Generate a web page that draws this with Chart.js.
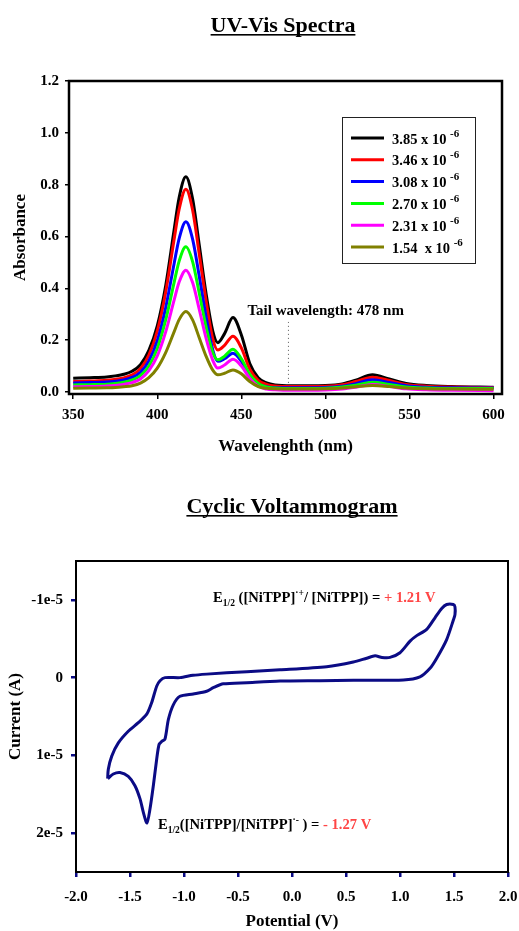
<!DOCTYPE html>
<html>
<head>
<meta charset="utf-8">
<title>UV-Vis Spectra / Cyclic Voltammogram</title>
<script src="https://cdn.jsdelivr.net/npm/chart.js@4.4.1/dist/chart.umd.min.js"></script>
<style>
  html, body { margin: 0; padding: 0; background: #fff; }
  #uvBox { position: relative; width: 519px; height: 470px; }
  #cvBox { position: relative; width: 519px; height: 461px; }
</style>
</head>
<body>
<div id="uvBox"><canvas id="uvChart"></canvas></div>
<div id="cvBox"><canvas id="cvChart"></canvas></div>
<script>
// ─── UV-Vis data ────────────────────────────────────────────────────────────
const WAVELENGTH = [350, 360, 370, 375, 380, 385, 390, 395, 400, 405, 410, 413, 417, 421, 425, 429, 433, 436,
                    440, 445, 450, 455, 460, 465, 470, 480, 490, 500, 510, 518, 528, 538, 548, 560, 575, 600];

const ABS_385 = [0.053, 0.055, 0.058, 0.062, 0.068, 0.080, 0.105, 0.160, 0.255, 0.410, 0.625, 0.750, 0.830, 0.745, 0.565, 0.380, 0.235, 0.190,
                 0.225, 0.287, 0.220, 0.110, 0.055, 0.035, 0.027, 0.024, 0.024, 0.025, 0.031, 0.045, 0.066, 0.050, 0.033, 0.025, 0.021, 0.018];
const ABS_346 = [0.040, 0.042, 0.045, 0.049, 0.054, 0.066, 0.090, 0.142, 0.235, 0.385, 0.588, 0.705, 0.782, 0.702, 0.530, 0.352, 0.205, 0.162,
                 0.180, 0.215, 0.170, 0.088, 0.045, 0.029, 0.023, 0.021, 0.021, 0.022, 0.028, 0.040, 0.057, 0.044, 0.029, 0.022, 0.019, 0.017];
const ABS_308 = [0.034, 0.036, 0.038, 0.041, 0.046, 0.056, 0.076, 0.120, 0.198, 0.325, 0.495, 0.592, 0.657, 0.590, 0.445, 0.292, 0.162, 0.118,
                 0.128, 0.149, 0.118, 0.062, 0.031, 0.020, 0.016, 0.016, 0.016, 0.017, 0.022, 0.032, 0.047, 0.036, 0.024, 0.018, 0.016, 0.015];
const ABS_270 = [0.027, 0.028, 0.030, 0.033, 0.037, 0.046, 0.063, 0.100, 0.168, 0.278, 0.422, 0.505, 0.560, 0.503, 0.380, 0.252, 0.152, 0.124,
                 0.138, 0.165, 0.128, 0.068, 0.033, 0.019, 0.015, 0.013, 0.013, 0.014, 0.019, 0.026, 0.037, 0.029, 0.019, 0.015, 0.013, 0.013];
const ABS_231 = [0.020, 0.021, 0.023, 0.025, 0.029, 0.036, 0.050, 0.082, 0.139, 0.232, 0.354, 0.424, 0.470, 0.422, 0.318, 0.208, 0.122, 0.092,
                 0.104, 0.126, 0.100, 0.052, 0.022, 0.011, 0.008, 0.006, 0.006, 0.007, 0.011, 0.018, 0.029, 0.021, 0.012, 0.008, 0.006, 0.005];
const ABS_154 = [0.014, 0.015, 0.016, 0.017, 0.020, 0.024, 0.034, 0.055, 0.092, 0.152, 0.232, 0.279, 0.310, 0.278, 0.208, 0.138, 0.084, 0.066,
                 0.072, 0.085, 0.070, 0.040, 0.021, 0.014, 0.012, 0.011, 0.011, 0.012, 0.015, 0.020, 0.025, 0.021, 0.015, 0.012, 0.011, 0.010];

const SERIES_LABELS = ['3.85 x 10', '3.46 x 10', '3.08 x 10', '2.70 x 10', '2.31 x 10', '1.54  x 10'];
const SERIES_EXP    = '-6';
const SERIES_COLORS = ['#000000', '#ff0000', '#0000ff', '#00ff00', '#ff00ff', '#808000'];

const UV_X_TICKS = [350, 400, 450, 500, 550, 600];
const UV_Y_TICKS = [0, 0.2, 0.4, 0.6, 0.8, 1.0, 1.2];

const TAIL_WAVELENGTH = 478;
const TAIL_SPAN = [0.035, 0.27];

// ─── Cyclic voltammogram (potential in V, current in 1e-5 A) ────────────────
const CV_POTENTIAL = [-1.707, -1.701, -1.669, -1.608, -1.516, -1.423, -1.345, -1.299, -1.253, -1.222, -1.176, -1.037, -0.917,
                      -0.790, -0.419, -0.111, 0.321, 0.568, 0.692, 0.769, 0.833, 0.907, 1.000, 1.093, 1.155, 1.247, 1.324,
                      1.386, 1.432, 1.494, 1.509, 1.509, 1.494, 1.432, 1.340, 1.278, 1.185, 1.031, 0.568, 0.259, -0.111,
                      -0.419, -0.636, -0.729, -0.790, -0.914, -1.037, -1.099, -1.145, -1.176, -1.206, -1.231, -1.253,
                      -1.284, -1.315, -1.343, -1.377, -1.407, -1.454, -1.516, -1.593, -1.655, -1.707];
const CV_CURRENT   = [1.30, 1.18, 1.01, 0.84, 0.69, 0.58, 0.47, 0.32, 0.11, 0.04, 0.00, 0.00, -0.03,
                      -0.045, -0.077, -0.10, -0.14, -0.20, -0.25, -0.28, -0.26, -0.26, -0.32, -0.47, -0.54, -0.62, -0.77,
                      -0.89, -0.94, -0.94, -0.91, -0.81, -0.74, -0.49, -0.25, -0.12, -0.01, 0.03, 0.035, 0.04, 0.045,
                      0.065, 0.08, 0.13, 0.175, 0.21, 0.24, 0.35, 0.54, 0.79, 0.82, 0.86, 1.05,
                      1.39, 1.69, 1.87, 1.73, 1.56, 1.39, 1.27, 1.22, 1.24, 1.30];

const CV_X_TICKS  = [-2.0, -1.5, -1.0, -0.5, 0.0, 0.5, 1.0, 1.5, 2.0];
const CV_Y_TICKS  = [-1, 0, 1, 2];
const CV_Y_LABELS = ['-1e-5', '0', '1e-5', '2e-5'];

// ─── Shared look ────────────────────────────────────────────────────────────
const SERIF = '"Liberation Serif", "Times New Roman", serif';
const NAVY  = '#0b0b85';
const RED   = '#ff4545';
Chart.defaults.font.family = SERIF;
Chart.defaults.font.weight = 'bold';
Chart.defaults.color = '#000';
Chart.defaults.animation = false;

const font = (size, weight = 'bold') => `${weight} ${size}px ${SERIF}`;

// fixed axis boxes so the plot area lands where the reference has it
const fixHeight = h => s => { s.height = h; s.paddingLeft = 0; s.paddingRight = 0; };
const fixWidth  = w => s => { s.width = w; s.paddingTop = 0; s.paddingBottom = 0; };

// draws a run of text pieces; each piece may be shifted up/down and sized
function drawRich(ctx, x, y, parts, base = 14) {
  ctx.save();
  ctx.textBaseline = 'alphabetic';
  ctx.textAlign = 'left';
  for (const p of parts) {
    ctx.font = font(p.size || base);
    ctx.fillStyle = p.color || '#000';
    ctx.fillText(p.t, x, y + (p.dy || 0));
    x += ctx.measureText(p.t).width;
  }
  ctx.restore();
}

// frame round the plot area
const frame = {
  id: 'frame',
  afterDraw(chart, args, opts) {
    const { ctx, chartArea: a } = chart;
    ctx.save();
    ctx.strokeStyle = '#000';
    ctx.lineWidth = opts.width;
    ctx.strokeRect(a.left, a.top, a.right - a.left, a.bottom - a.top);
    ctx.restore();
  }
};

// underlined heading
const headline = {
  id: 'headline',
  afterDraw(chart, args, opts) {
    const { ctx } = chart;
    ctx.save();
    ctx.font = font(22);
    ctx.fillStyle = '#000';
    ctx.textAlign = 'center';
    ctx.textBaseline = 'alphabetic';
    ctx.fillText(opts.text, opts.x, opts.y);
    const w = ctx.measureText(opts.text).width;
    ctx.fillRect(opts.x - w / 2, opts.y + 2, w, 1.6);
    ctx.restore();
  }
};

// boxed legend inside the spectra plot, with the exponent raised
const boxLegend = {
  id: 'boxLegend',
  afterDraw(chart) {
    const { ctx, chartArea: a } = chart;
    const left = a.right - 160, top = a.top + 36, w = 133, h = 146;
    ctx.save();
    ctx.fillStyle = '#fff';
    ctx.fillRect(left, top, w, h);
    ctx.strokeStyle = '#222';
    ctx.lineWidth = 1;
    ctx.strokeRect(left + 0.5, top + 0.5, w, h);
    SERIES_LABELS.forEach((lab, i) => {
      const y = top + 21 + i * 21.8;
      ctx.strokeStyle = SERIES_COLORS[i];
      ctx.lineWidth = 3;
      ctx.beginPath();
      ctx.moveTo(left + 9, y);
      ctx.lineTo(left + 42, y);
      ctx.stroke();
      drawRich(ctx, left + 50, y + 5.5, [
        { t: lab + ' ', size: 14.5 },
        { t: SERIES_EXP, size: 11, dy: -7 }
      ]);
    });
    ctx.restore();
  }
};

// text notes anchored to data coordinates
const notes = {
  id: 'notes',
  afterDraw(chart, args, opts) {
    const { ctx, scales } = chart;
    for (const n of opts.items) {
      drawRich(ctx, scales.x.getPixelForValue(n.x), scales.y.getPixelForValue(n.y), n.parts, opts.size);
    }
  }
};

// ─── UV-Vis chart ───────────────────────────────────────────────────────────
const uvSets = [ABS_385, ABS_346, ABS_308, ABS_270, ABS_231, ABS_154].map((arr, i) => ({
  label: SERIES_LABELS[i],
  data: arr.map((a, k) => ({ x: WAVELENGTH[k], y: a })),
  borderColor: SERIES_COLORS[i],
  borderWidth: 3,
  pointRadius: 0,
  cubicInterpolationMode: 'monotone',
  fill: false,
  order: 6 - i,
}));
uvSets.push({
  label: 'Tail',
  data: TAIL_SPAN.map(a => ({ x: TAIL_WAVELENGTH, y: a })),
  borderColor: '#555',
  borderWidth: 1,
  borderDash: [1, 3],
  pointRadius: 0,
  order: 20,
});

new Chart(document.getElementById('uvChart'), {
  type: 'line',
  data: { datasets: uvSets },
  options: {
    responsive: true, maintainAspectRatio: false,
    layout: { padding: { top: 81, right: 17, bottom: 10, left: 0 } },
    plugins: {
      legend: { display: false }, tooltip: { enabled: false },
      frame: { width: 2.5 },
      headline: { text: 'UV-Vis Spectra', x: 283, y: 32 },
      notes: { size: 15, items: [
        { x: 453.6, y: 0.297, parts: [{ t: 'Tail wavelength: 478 nm' }] }
      ] },
    },
    scales: {
      x: {
        type: 'linear', min: 347.5, max: 605,
        afterBuildTicks: s => { s.ticks = UV_X_TICKS.map(v => ({ value: v })); },
        afterFit: fixHeight(66),
        border: { display: false },
        grid: { drawOnChartArea: false, tickLength: 5, tickColor: '#000', lineWidth: 1.5 },
        ticks: { font: { size: 15 }, padding: 7, maxRotation: 0, callback: v => String(v) },
        title: { display: true, text: 'Wavelenghth (nm)', font: { size: 17 }, padding: { top: 4, bottom: 3 } },
      },
      y: {
        min: -0.008, max: 1.2,
        afterBuildTicks: s => { s.ticks = UV_Y_TICKS.map(v => ({ value: v })); },
        afterFit: fixWidth(69),
        border: { display: false },
        grid: { drawOnChartArea: false, tickLength: 4, tickColor: '#000', lineWidth: 1.5 },
        ticks: { font: { size: 15 }, padding: 6, callback: v => v.toFixed(1) },
        title: { display: true, text: 'Absorbance', font: { size: 17 }, padding: { top: 10, bottom: 0 } },
      },
    },
  },
  plugins: [frame, headline, boxLegend, notes],
});

// ─── Cyclic voltammogram chart ──────────────────────────────────────────────
new Chart(document.getElementById('cvChart'), {
  type: 'scatter',
  data: {
    datasets: [{
      label: 'CV',
      data: CV_POTENTIAL.map((v, k) => ({ x: v, y: CV_CURRENT[k] })),
      showLine: true,
      borderColor: NAVY,
      borderWidth: 3,
      pointRadius: 0,
      tension: 0.25,
      fill: false,
    }],
  },
  options: {
    responsive: true, maintainAspectRatio: false,
    layout: { padding: { top: 91, right: 11, bottom: 0, left: 0 } },
    plugins: {
      legend: { display: false }, tooltip: { enabled: false },
      frame: { width: 2 },
      headline: { text: 'Cyclic Voltammogram', x: 292, y: 43 },
      notes: { size: 14.6, items: [
        { x: -0.731, y: -0.978, parts: [
          { t: 'E' }, { t: '1/2', size: 9.5, dy: 4 }, { t: ' ([NiTPP]' }, { t: '·+', size: 9.5, dy: -6 },
          { t: '/ [NiTPP]) = ' }, { t: '+ 1.21 V', color: RED }
        ] },
        { x: -1.241, y: 1.95, parts: [
          { t: 'E' }, { t: '1/2', size: 9.5, dy: 4 }, { t: '([NiTPP]/[NiTPP]' }, { t: '·-', size: 9.5, dy: -6 },
          { t: ' ) = ' }, { t: '- 1.27 V', color: RED }
        ] },
      ] },
    },
    scales: {
      x: {
        type: 'linear', min: -2, max: 2,
        afterBuildTicks: s => { s.ticks = CV_X_TICKS.map(v => ({ value: v })); },
        afterFit: fixHeight(59),
        border: { display: false },
        grid: { drawOnChartArea: false, tickLength: 5, tickColor: NAVY, lineWidth: 2.5 },
        ticks: { font: { size: 15 }, padding: 11, maxRotation: 0, callback: v => v.toFixed(1) },
        title: { display: true, text: 'Potential (V)', font: { size: 17 }, padding: { top: 4, bottom: -1 } },
      },
      y: {
        reverse: true, min: -1.5, max: 2.5,
        afterBuildTicks: s => { s.ticks = CV_Y_TICKS.map(v => ({ value: v })); },
        afterFit: fixWidth(76),
        border: { display: false },
        grid: { drawOnChartArea: false, tickLength: 5, tickColor: NAVY, lineWidth: 2.5 },
        ticks: { font: { size: 15 }, padding: 8, callback: v => CV_Y_LABELS[CV_Y_TICKS.indexOf(v)] },
        title: { display: true, text: 'Current (A)', font: { size: 17 }, padding: { top: 5, bottom: 0 } },
      },
    },
  },
  plugins: [frame, headline, notes],
});
</script>
</body>
</html>
